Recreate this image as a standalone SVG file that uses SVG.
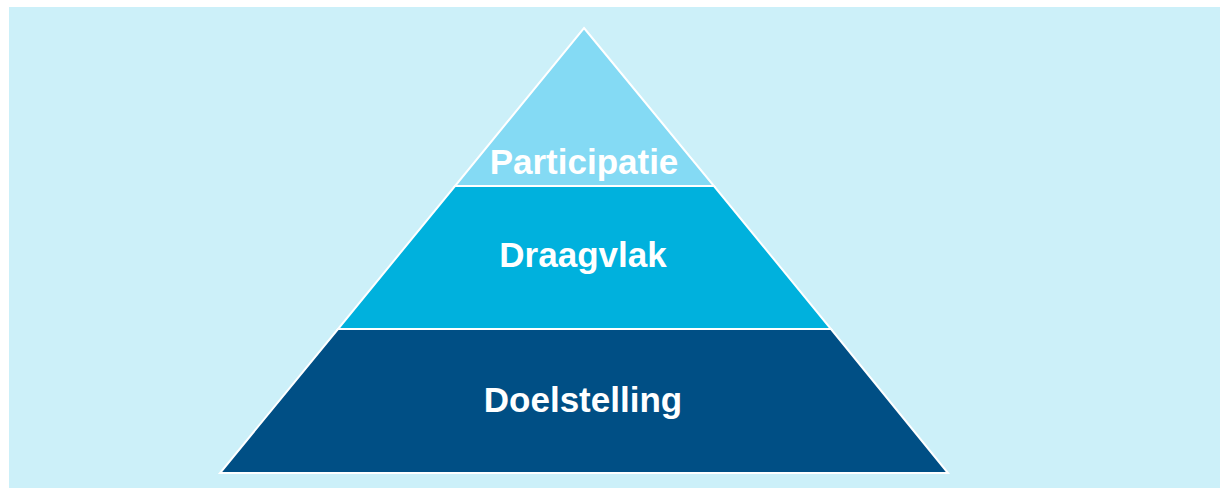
<svg xmlns="http://www.w3.org/2000/svg" width="1220" height="488" viewBox="0 0 1220 488">
<style>
.lvl{stroke:#ffffff;stroke-width:2;stroke-linejoin:miter}
.lbl{font-family:"Liberation Sans",Arial,sans-serif;font-weight:bold;font-size:35px;fill:#ffffff;text-anchor:middle}
</style>
<rect x="0" y="0" width="1220" height="488" fill="#ffffff"/>
<rect x="9" y="7" width="1211" height="481" fill="#ccf0f9"/>
<g id="participatie">
<polygon class="lvl" points="584,28 714,186 455,186" fill="#84daf4"/>
<text class="lbl" x="584" y="174" font-size="31.5">Participatie</text>
</g>
<g id="draagvlak">
<polygon class="lvl" points="455,186 714,186 831,329 338,329" fill="#00b1dd"/>
<text class="lbl" x="583" y="267">Draagvlak</text>
</g>
<g id="doelstelling">
<polygon class="lvl" points="338,329 831,329 948,473 220,473" fill="#004f85"/>
<text class="lbl" x="583" y="412">Doelstelling</text>
</g>
<g id="connectors"/>
</svg>
